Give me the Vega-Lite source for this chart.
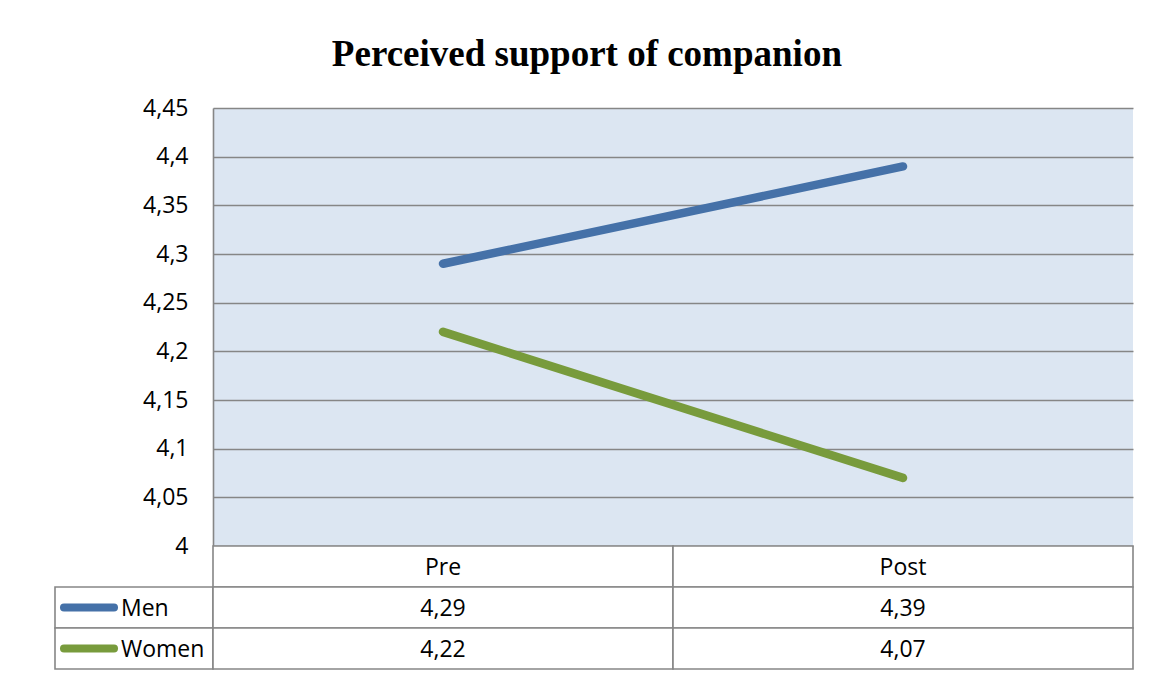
{
  "$schema": "https://vega.github.io/schema/vega-lite/v6.json",
  "padding": {"left": 48, "top": 36, "right": 20, "bottom": 6},
  "background": "white",
  "title": {
    "text": "Perceived support of companion",
    "font": "Liberation Serif",
    "fontSize": 37,
    "fontWeight": "bold",
    "color": "#000000",
    "anchor": "middle",
    "dx": -4,
    "offset": 23
  },
  "datasets": {
    "scores": [
      {"group": "Men", "phase": "Pre", "value": 4.29},
      {"group": "Men", "phase": "Post", "value": 4.39},
      {"group": "Women", "phase": "Pre", "value": 4.22},
      {"group": "Women", "phase": "Post", "value": 4.07}
    ]
  },
  "columns": 2,
  "spacing": 0,
  "bounds": "flush",
  "concat": [
    {
      "width": 158,
      "height": 438,
      "data": {"name": "scores"},
      "mark": {"type": "rect", "opacity": 0},
      "encoding": {}
    },
    {
      "width": 920,
      "height": 438,
      "view": {"fill": "#DCE6F2", "stroke": null},
      "data": {"name": "scores"},
      "mark": {"type": "line", "strokeWidth": 8.5, "strokeCap": "round", "strokeJoin": "round"},
      "encoding": {
        "x": {
          "field": "phase",
          "type": "nominal",
          "scale": {"type": "point", "domain": ["Pre", "Post"], "padding": 0.5},
          "axis": null
        },
        "y": {
          "field": "value",
          "type": "quantitative",
          "scale": {"domain": [4, 4.45], "zero": false, "nice": false},
          "axis": {
            "title": null,
            "values": [4, 4.05, 4.1, 4.15, 4.2, 4.25, 4.3, 4.35, 4.4, 4.45],
            "format": ".3~g",
            "ticks": false,
            "labelPadding": 25,
            "labelFont": "Open Sans",
            "labelFontSize": 23,
            "labelColor": "#000000",
            "domain": true,
            "domainColor": "#868686",
            "domainWidth": 1.6,
            "grid": true,
            "gridColor": "#868686",
            "gridWidth": 1.6,
            "gridOpacity": 1
          }
        },
        "color": {
          "field": "group",
          "type": "nominal",
          "scale": {"domain": ["Men", "Women"], "range": ["#4571A8", "#789B3C"]},
          "legend": null
        }
      }
    },
    {
      "width": 158,
      "height": 123,
      "data": {"name": "scores"},
      "transform": [{"filter": "datum.phase === 'Pre'"}],
      "encoding": {
        "y": {
          "field": "group",
          "type": "nominal",
          "scale": {"type": "band", "domain": ["head", "Men", "Women"], "padding": 0},
          "axis": null
        }
      },
      "layer": [
        {
          "mark": {"type": "rect", "fill": "white", "stroke": "#868686", "strokeWidth": 1.6}
        },
        {
          "mark": {
            "type": "point",
            "shape": "M-1,0H1",
            "size": 2500,
            "filled": false,
            "strokeWidth": 8,
            "strokeCap": "round",
            "opacity": 1,
            "xOffset": -45
          },
          "encoding": {
            "color": {
              "field": "group",
              "type": "nominal",
              "scale": {"domain": ["Men", "Women"], "range": ["#4571A8", "#789B3C"]},
              "legend": null
            }
          }
        },
        {
          "mark": {
            "type": "text",
            "align": "left",
            "baseline": "middle",
            "dx": -13,
            "dy": 1,
            "font": "Open Sans",
            "fontSize": 23,
            "color": "#000000"
          },
          "encoding": {"text": {"field": "group"}}
        }
      ]
    },
    {
      "width": 920,
      "height": 123,
      "data": {"name": "scores"},
      "encoding": {
        "x": {
          "field": "phase",
          "type": "nominal",
          "scale": {"type": "band", "domain": ["Pre", "Post"], "padding": 0},
          "axis": null
        }
      },
      "layer": [
        {
          "transform": [{"filter": "datum.group === 'Men'"}],
          "mark": {"type": "rect", "fill": "white", "stroke": "#868686", "strokeWidth": 1.6},
          "encoding": {
            "y": {
              "datum": "head",
              "type": "nominal",
              "scale": {"type": "band", "domain": ["head", "Men", "Women"], "padding": 0},
              "axis": null
            }
          }
        },
        {
          "mark": {"type": "rect", "fill": "white", "stroke": "#868686", "strokeWidth": 1.6},
          "encoding": {
            "y": {"field": "group", "type": "nominal"}
          }
        },
        {
          "transform": [{"filter": "datum.group === 'Men'"}],
          "mark": {"type": "text", "baseline": "middle", "dy": 1, "font": "Open Sans", "fontSize": 23, "color": "#000000"},
          "encoding": {
            "y": {"datum": "head", "type": "nominal"},
            "text": {"field": "phase"}
          }
        },
        {
          "mark": {"type": "text", "baseline": "middle", "dy": 1, "font": "Open Sans", "fontSize": 23, "color": "#000000"},
          "encoding": {
            "y": {"field": "group", "type": "nominal"},
            "text": {"field": "value", "type": "quantitative", "format": ".2f"}
          }
        }
      ]
    }
  ],
  "config": {
    "view": {"stroke": null},
    "locale": {
      "number": {
        "decimal": ",",
        "thousands": ".",
        "grouping": [3],
        "currency": ["", " €"]
      }
    }
  }
}
